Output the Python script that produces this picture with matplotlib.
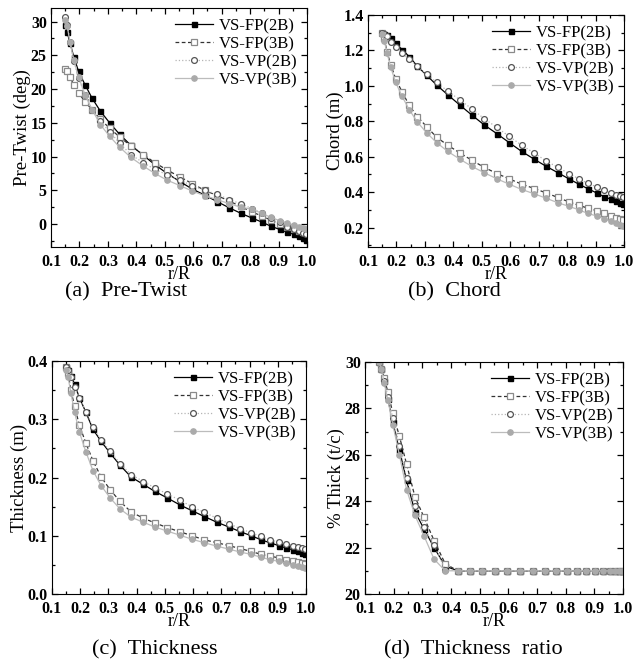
import matplotlib
matplotlib.use("Agg")
import matplotlib.pyplot as plt
from matplotlib.ticker import MultipleLocator, FormatStrFormatter

plt.rcParams['font.family'] = ['Liberation Serif', 'DejaVu Serif']

# radial stations r/R (same for all series)
r = [0.15, 0.157, 0.167, 0.18, 0.197, 0.22, 0.245, 0.274, 0.306, 0.341,
     0.38, 0.424, 0.465, 0.508, 0.553, 0.596, 0.64, 0.685, 0.727, 0.767,
     0.806, 0.841, 0.872, 0.904, 0.929, 0.953, 0.971, 0.985, 0.995]

labels = ["VS-FP(2B)", "VS-FP(3B)", "VS-VP(2B)", "VS-VP(3B)"]

# (a) pre-twist, deg
twist_fp2 = [29.5, 28.4, 26.8, 24.8, 22.6, 20.6, 18.6, 16.7, 15.0, 13.3,
             11.7, 10.2, 8.8, 7.5, 6.3, 5.2, 4.3, 3.3, 2.4, 1.6,
             0.9, 0.3, -0.3, -0.8, -1.2, -1.5, -1.8, -2.0, -2.3]
twist_fp3 = [23.0, 22.6, 21.8, 20.6, 19.4, 18.1, 16.9, 15.5, 14.2, 12.9,
             11.6, 10.3, 9.1, 8.0, 7.0, 6.0, 5.0, 4.2, 3.4, 2.6,
             1.8, 1.2, 0.6, 0.0, -0.4, -0.8, -1.0, -1.2, -1.4]
twist_vp2 = [30.7, 29.5, 27.0, 24.2, 21.6, 19.1, 16.9, 15.2, 13.7, 12.0,
             10.3, 9.1, 8.1, 7.3, 6.5, 5.7, 5.0, 4.4, 3.6, 3.0,
             2.3, 1.6, 0.9, 0.3, -0.4, -0.8, -1.1, -1.3, -1.5]
twist_vp3 = [30.2, 29.3, 26.9, 24.3, 21.8, 19.1, 16.9, 14.7, 13.0, 11.4,
             9.9, 8.6, 7.5, 6.5, 5.7, 4.9, 4.2, 3.6, 3.0, 2.5,
             2.2, 1.6, 1.0, 0.5, 0.2, -0.15, -0.4, -0.6, -0.75]

# (b) chord, m
chord_fp2 = [1.30, 1.295, 1.285, 1.27, 1.24, 1.205, 1.165, 1.11, 1.06, 1.005,
             0.95, 0.89, 0.835, 0.78, 0.73, 0.68, 0.63, 0.585, 0.545, 0.51,
             0.475, 0.445, 0.42, 0.395, 0.375, 0.36, 0.35, 0.34, 0.33]
chord_fp3 = [1.30, 1.27, 1.19, 1.12, 1.04, 0.965, 0.89, 0.825, 0.77, 0.71,
             0.665, 0.62, 0.58, 0.54, 0.505, 0.475, 0.445, 0.42, 0.395, 0.37,
             0.345, 0.325, 0.31, 0.295, 0.28, 0.265, 0.255, 0.25, 0.245]
chord_vp2 = [1.30, 1.295, 1.28, 1.25, 1.22, 1.185, 1.15, 1.11, 1.065, 1.02,
             0.97, 0.92, 0.87, 0.815, 0.765, 0.715, 0.665, 0.62, 0.575, 0.54,
             0.505, 0.475, 0.45, 0.43, 0.41, 0.395, 0.385, 0.38, 0.375]
chord_vp3 = [1.29, 1.255, 1.185, 1.105, 1.02, 0.94, 0.865, 0.795, 0.735, 0.68,
             0.63, 0.585, 0.545, 0.51, 0.475, 0.445, 0.415, 0.39, 0.365, 0.34,
             0.32, 0.30, 0.28, 0.265, 0.25, 0.235, 0.225, 0.215, 0.21]

# (c) thickness, m
thick_fp2 = [0.39, 0.385, 0.375, 0.36, 0.337, 0.312, 0.283, 0.262, 0.242, 0.221,
             0.201, 0.188, 0.176, 0.165, 0.153, 0.143, 0.133, 0.123, 0.115, 0.107,
             0.100, 0.093, 0.088, 0.083, 0.079, 0.076, 0.073, 0.071, 0.069]
thick_fp3 = [0.39, 0.38, 0.35, 0.322, 0.29, 0.259, 0.229, 0.201, 0.179, 0.159,
             0.141, 0.130, 0.122, 0.114, 0.107, 0.100, 0.093, 0.088, 0.083, 0.078,
             0.073, 0.068, 0.065, 0.062, 0.059, 0.057, 0.055, 0.053, 0.052]
thick_vp2 = [0.39, 0.385, 0.372, 0.355, 0.337, 0.313, 0.287, 0.264, 0.245, 0.224,
             0.205, 0.193, 0.182, 0.172, 0.161, 0.150, 0.140, 0.130, 0.121, 0.112,
             0.105, 0.099, 0.093, 0.089, 0.086, 0.083, 0.081, 0.079, 0.078]
thick_vp3 = [0.385, 0.372, 0.345, 0.312, 0.278, 0.244, 0.212, 0.186, 0.165, 0.146,
             0.132, 0.123, 0.115, 0.108, 0.101, 0.094, 0.088, 0.082, 0.077, 0.072,
             0.068, 0.063, 0.059, 0.056, 0.053, 0.050, 0.048, 0.046, 0.044]

# (d) thickness ratio, %
ratio_fp2 = [30.0, 29.7, 29.2, 28.4, 27.4, 26.2, 24.9, 23.55, 22.8, 22.0,
             21.2] + [21.0] * 18
ratio_fp3 = [30.0, 29.7, 29.3, 28.7, 27.8, 26.8, 25.6, 24.2, 23.3, 22.3,
             21.3] + [21.0] * 18
ratio_vp2 = [30.0, 29.7, 29.2, 28.5, 27.6, 26.4, 25.0, 23.8, 22.9, 22.1,
             21.05] + [21.0] * 18
ratio_vp3 = [30.0, 29.7, 29.1, 28.35, 27.3, 26.0, 24.5, 23.4, 22.5, 21.5,
             21.0] + [21.0] * 18

styles = [
    dict(color="black", ls="-", lw=0.9, marker="s", ms=3.6, mfc="black", mec="black"),
    dict(color="#333333", ls=(0, (3, 2)), lw=0.9, marker="s", ms=3.8, mfc="white",
         mec="#8a8a8a", mew=0.9),
    dict(color="#b5b5b5", ls=":", lw=0.9, marker="o", ms=4.2, mfc="white",
         mec="#555555", mew=0.9),
    dict(color="#bcbcbc", ls="-", lw=0.9, marker="o", ms=3.8, mfc="#aaaaaa", mec="#aaaaaa"),
]

W, H = 634, 668
fig = plt.figure(figsize=(W / 100, H / 100), dpi=100)


def px_axes(left, top, right, bottom):
    return fig.add_axes([left / W, 1 - bottom / H, (right - left) / W, (bottom - top) / H])


panels = [
    ((51, 8, 307, 247), [twist_fp2, twist_fp3, twist_vp2, twist_vp3], "Pre-Twist (deg)",
     (-3.4, 32), 5, 2.5, "%d"),
    ((368, 15, 624, 247), [chord_fp2, chord_fp3, chord_vp2, chord_vp3], "Chord (m)",
     (0.09, 1.4), 0.2, 0.1, "%.1f"),
    ((52, 361, 306, 594), [thick_fp2, thick_fp3, thick_vp2, thick_vp3], "Thickness (m)",
     (0.0, 0.4), 0.1, 0.05, "%.1f"),
    ((365, 362, 623, 594), [ratio_fp2, ratio_fp3, ratio_vp2, ratio_vp3], "% Thick (t/c)",
     (20, 30), 2, 1, "%d"),
]

for box, series, ylabel, ylim, major, minor, fmt in panels:
    ax = px_axes(*box)
    for ys, lab, st in zip(series, labels, styles):
        ax.plot(r, ys, label=lab, **st)
    ax.set_xlim(0.1, 1.0)
    ax.set_ylim(*ylim)
    ax.xaxis.set_major_locator(MultipleLocator(0.1))
    ax.xaxis.set_minor_locator(MultipleLocator(0.05))
    ax.yaxis.set_major_locator(MultipleLocator(major))
    ax.yaxis.set_minor_locator(MultipleLocator(minor))
    ax.xaxis.set_major_formatter(FormatStrFormatter("%.1f"))
    ax.yaxis.set_major_formatter(FormatStrFormatter(fmt))
    ax.tick_params(which="both", direction="in", top=True, right=True, width=0.9)
    ax.tick_params(which="major", length=4, labelsize=11.5)
    ax.tick_params(axis="x", which="major", pad=5)
    ax.tick_params(axis="y", which="major", pad=3)
    ax.tick_params(which="minor", length=2)
    for t in ax.get_xticklabels() + ax.get_yticklabels():
        t.set_fontweight("bold")
    ax.set_xlabel("r/R", fontsize=13, labelpad=-3)
    ax.set_ylabel(ylabel, fontsize=13.5, labelpad=0)
    ax.legend(loc="upper right", frameon=False, fontsize=12, handlelength=2.3,
              handletextpad=0.3, labelspacing=0.12, borderaxespad=0.2)

captions = [("(a)  Pre-Twist", 126, 292), ("(b)  Chord", 454, 292),
            ("(c)  Thickness", 155, 650), ("(d)  Thickness  ratio", 473, 650)]
for txt, x, y in captions:
    fig.text(x / W, 1 - y / H, txt, ha="center", va="center", fontsize=16)

fig.savefig("out.png", dpi=100)
